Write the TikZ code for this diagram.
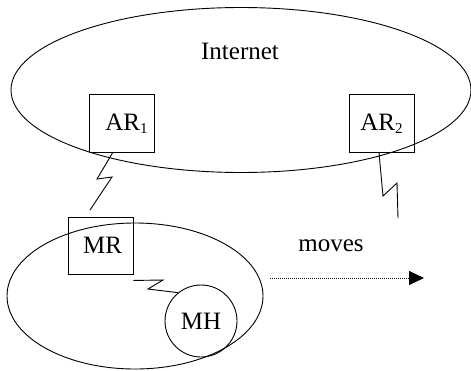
\documentclass[tikz,border=0pt]{standalone}
\usepackage{fontspec}
\setmainfont{Liberation Serif}
\usetikzlibrary{shapes.geometric,arrows.meta}
\newcommand{\subnum}[1]{{\fontsize{15}{15}\selectfont\raisebox{-2.5pt}{#1}}}
\begin{document}
\begin{tikzpicture}[x=1pt,y=-1pt,
  every node/.style={font=\fontsize{25}{27}\selectfont, inner sep=0pt},
  cloud/.style={draw, ellipse, line width=0.9pt},
  router/.style={draw, rectangle, line width=0.9pt, minimum width=65pt, minimum height=58pt},
  host/.style={draw, circle, line width=0.9pt, minimum size=72pt},
  link/.style={line width=0.9pt, line join=miter},
  movearrow/.style={line width=0.9pt, dash pattern=on 0.9pt off 1.1pt, -{Triangle[length=15pt,width=14pt]}}]
\useasboundingbox (0,0) rectangle (471,370);
% Internet
\node[cloud, minimum width=460pt, minimum height=165pt] (inet) at (241,90) {};
\node (inettxt) at (240,51) {Internet};
% access routers
\node[router] (ar1) at (121.5,123.5) {\hspace{10pt}AR\subnum{1}};
\node[router] (ar2) at (381.5,123.5) {AR\subnum{2}};
% mobile network
\node[cloud, minimum width=256pt, minimum height=146pt] (mnet) at (135,296) {};
\node[router, minimum height=57pt] (mr) at (100.5,245.5) {\hspace{4pt}MR};
\node[host] (mh) at (201,321) {MH};
% wireless links
\coordinate (z1end) at (90,210);
\coordinate (z2end) at (398,218);
\draw[link] ([xshift=-9pt]ar1.south) -- (97,179) -- (112,177) -- (z1end);
\draw[link] ([xshift=-2.5pt]ar2.south) -- (383,196) -- (397,183) -- (z2end);
\draw[link] ([yshift=-6pt]mr.south east) -- (163,280) -- (148,289) -- (mh.129);
% movement
\coordinate (mvstart) at (270,278);
\coordinate (mvend) at (424,278);
\draw[movearrow] (mvstart) -- (mvend);
\node (movestxt) at (331,246) {moves};
\end{tikzpicture}
\end{document}
